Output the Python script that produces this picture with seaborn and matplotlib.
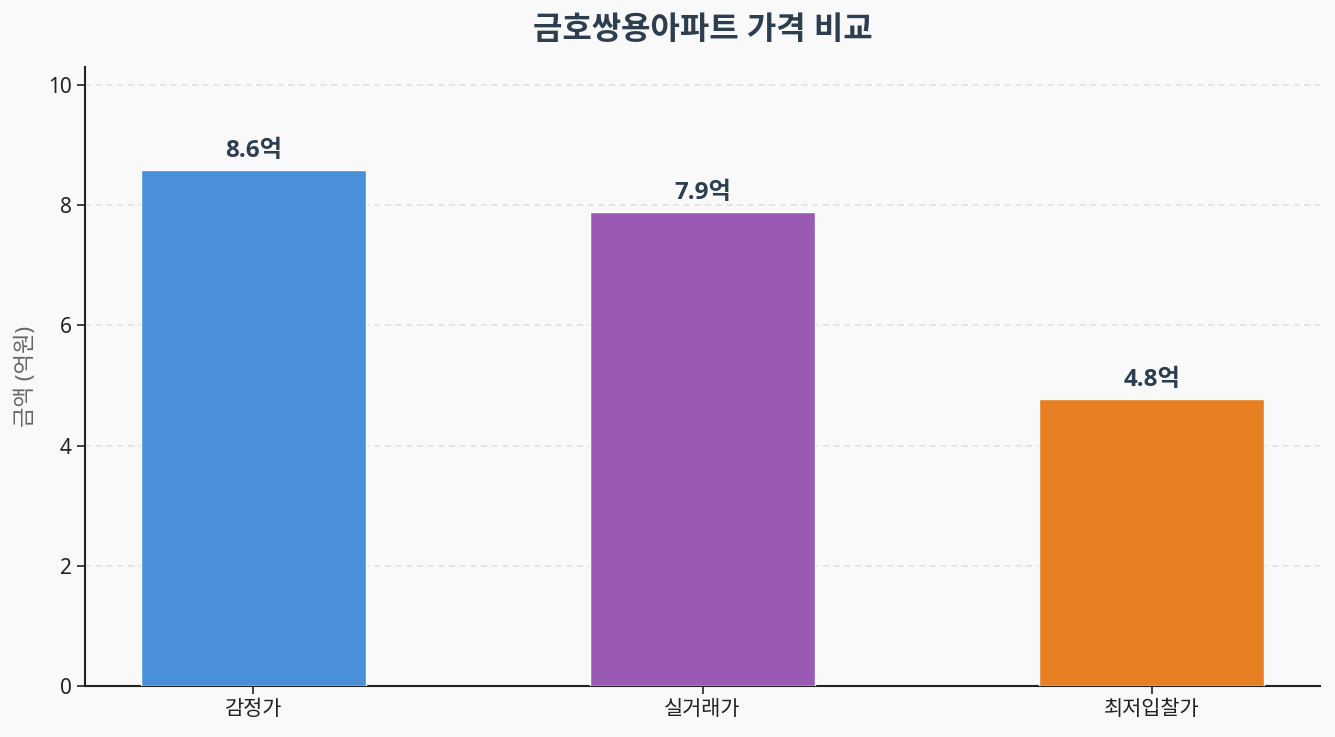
import matplotlib
matplotlib.use("Agg")
import matplotlib.pyplot as plt
import seaborn as sns
import pandas as pd

# price comparison (unit: 100M KRW)
categories = ["감정가", "실거래가", "최저입찰가"]
prices = [8.58, 7.88, 4.78]
bar_colors = ["#4a90d9", "#9b59b6", "#e67e22"]
title = "금호쌍용아파트 가격 비교"
y_label = "금액 (억원)"

sns.set_style("ticks")
plt.rcParams["font.family"] = ["Noto Sans", "Noto Sans CJK KR", "DejaVu Sans"]
plt.rcParams["axes.unicode_minus"] = False

df = pd.DataFrame({"category": categories, "price": prices})

fig, ax = plt.subplots(figsize=(13.35, 7.37), dpi=100)
fig.patch.set_facecolor("#f9f9f9")
ax.set_facecolor("#f9f9f9")
fig.subplots_adjust(left=0.0637, right=0.9888, top=0.909, bottom=0.069)

sns.barplot(data=df, x="category", y="price", hue="category",
            palette=bar_colors, saturation=1, width=0.5,
            edgecolor="white", linewidth=1, legend=False, ax=ax, zorder=3)

for i, v in enumerate(prices):
    ax.text(i, v + 0.12, f"{v:.1f}억", ha="center", va="bottom",
            fontsize=17.5, fontweight="bold", color="#2c3e50",
            family=["Open Sans", "Noto Sans CJK KR"])

ax.set_xlim(-0.375, 2.375)
ax.set_ylim(0, max(prices) * 1.2)
ax.set_title(title, fontsize=23, fontweight="bold", color="#2c3e50", pad=20)
ax.set_xlabel("")
ax.set_ylabel(y_label, fontsize=16, color="#666666", labelpad=8)
ax.tick_params(axis="both", labelsize=15, colors="#222222", length=6, width=1.2)
ax.yaxis.grid(True, linestyle=(0, (4, 3)), color="#e0e0e0", linewidth=1.1, zorder=0)
ax.set_axisbelow(True)
sns.despine(ax=ax)
for s in ["left", "bottom"]:
    ax.spines[s].set_color("#222222")
    ax.spines[s].set_linewidth(1.5)

fig.savefig("out.png", dpi=100, facecolor=fig.get_facecolor())
